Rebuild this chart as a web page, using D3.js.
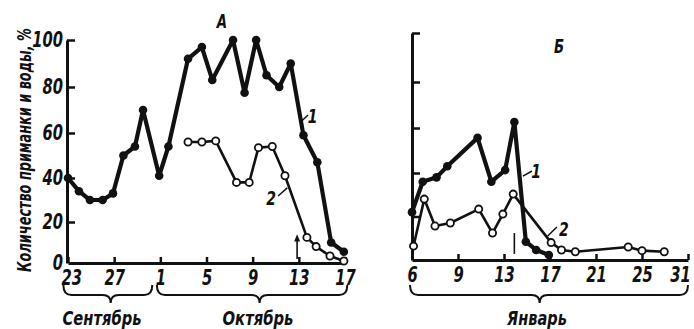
<!DOCTYPE html>
<html><head><meta charset="utf-8">
<script src="https://cdn.jsdelivr.net/npm/d3@7"></script>
<style>
body{margin:0;background:#fff;}
svg text{font-family:"Liberation Sans Narrow","DejaVu Sans Condensed","Arial Narrow","Liberation Sans",sans-serif;font-style:italic;font-weight:bold;fill:#111;}
</style></head><body><svg id="c" width="694" height="329"></svg>
<script>
// ---- data (left panel x = days since 23 Sept) ----
const leftTickDays = [0,4,8,12,16,20,24];
const leftTickLabels = ["23","27","1","5","9","13","17"];
const yTickValues = [0,20,40,60,80,100];
const leftDays1 = [0,0.95,1.9,3.0,3.9,4.8,5.8,6.5,7.9,8.7,10.4,11.6,12.5,14.3,15.3,16.3,17.2,18.3,19.3,20.4,21.6,22.8,23.9];
const leftVals1 = [40,34,30,30,33,50,54,70,41,54,92,97,83,100,77.5,100,85,80,90,59,47,10,5.5];
const leftDays2 = [10.4,11.6,12.8,14.6,15.7,16.5,17.7,18.8,20.7,21.5,22.7,23.9];
const leftVals2 = [56,56,56.5,38,38,53.5,54,41,12.5,8,3.4,1];
// ---- right panel (January days) ----
const rightTickDays = [6,9,13,17,21,25,31];
const rightTickLabels = ["6","9","13","17","21","25","31"];
const rightDays1 = [6.0,6.7,7.6,8.3,10.7,11.9,13.1,13.9,14.9,15.8,16.9];
const rightVals1 = [22,36,38,43,55.6,36,41.3,62.6,8.4,4.6,2.3];
const rightDays2 = [6.1,6.8,7.5,8.5,10.8,12.0,12.9,13.8,17.1,18.0,19.2,23.8,25.0,27.9];
const rightVals2 = [6.4,28,15.6,17,23.4,12.4,21.1,30.3,8,4.6,3.8,6,4.3,3.8];
const monthLabels = ["Сентябрь","Октябрь","Январь"];
const panelLabels = ["А","Б"];
const yTitle = "Количество приманки и воды, %";

const svg = d3.select("#c");
const ink = "#111";
const narrow = "scale(0.78,1)";

// scales
const xL = d3.scaleLinear().domain([0,24]).range([68,345]);
const yL = d3.scaleLinear().domain([0,20,40,60,80,100]).range([263,222,178,133,87,40]);
const xR = d3.scaleLinear().domain(rightTickDays).range(rightTickDays.map((d,i)=>412+i*46));
const yR = d3.scaleLinear().domain([0,40,60,80,100]).range([260,173,128,82,33]);

function styleAxis(g){
  g.select(".domain").attr("stroke",ink).attr("stroke-width",3);
  g.selectAll(".tick line").attr("stroke",ink).attr("stroke-width",2.5);
  g.selectAll(".tick text").attr("fill",ink).attr("transform",narrow).style("font-size","21px");
}

// left axes
svg.append("g").attr("transform",`translate(0,${yL(0)})`)
  .call(d3.axisBottom(xL).tickValues(leftTickDays).tickFormat((d,i)=>leftTickLabels[i]).tickSizeInner(-6).tickSizeOuter(0).tickPadding(7))
  .call(styleAxis)
  .call(g=>g.selectAll(".tick").filter(d=>d===0).select("text").attr("x",4));
svg.append("g").attr("transform",`translate(${xL(0)-1},0)`)
  .call(d3.axisLeft(yL).tickValues(yTickValues).tickSizeInner(-8).tickSizeOuter(0).tickPadding(5))
  .call(styleAxis)
  .call(g=>g.selectAll(".tick").filter(d=>d===0).select("line").remove());

// right axes
svg.append("g").attr("transform",`translate(0,${yR(0)})`)
  .call(d3.axisBottom(xR).tickValues(rightTickDays).tickFormat((d,i)=>rightTickLabels[i]).tickSizeInner(-6).tickSizeOuter(0).tickPadding(7))
  .call(styleAxis)
  .call(g=>g.selectAll(".tick").filter(d=>d===6).select("line").remove())
  .call(g=>g.selectAll(".tick").filter(d=>d===31).select("text").attr("text-anchor","end").attr("x",3));
svg.append("g").attr("transform",`translate(${xR(6)},0)`)
  .call(d3.axisLeft(yR).tickValues(yTickValues).tickFormat("").tickSizeInner(-8).tickSizeOuter(0))
  .call(styleAxis)
  .call(g=>g.selectAll(".tick").filter(d=>d===0).select("line").remove());

// series
function drawSeries(days, vals, xs, ys, filled){
  const pts = days.map((d,i)=>[xs(d), ys(vals[i])]);
  svg.append("path").attr("d", d3.line()(pts)).attr("fill","none")
    .attr("stroke",ink).attr("stroke-width", filled?4.2:2.6).attr("stroke-linejoin","round");
  svg.append("g").selectAll("circle").data(pts).join("circle")
    .attr("cx",d=>d[0]).attr("cy",d=>d[1])
    .attr("r", filled?4.3:3.6)
    .attr("fill", filled?ink:"#fff")
    .attr("stroke",ink).attr("stroke-width", filled?0:1.8);
}
drawSeries(leftDays1,leftVals1,xL,yL,true);
drawSeries(leftDays2,leftVals2,xL,yL,false);
drawSeries(rightDays1,rightVals1,xR,yR,true);
drawSeries(rightDays2,rightVals2,xR,yR,false);

// series labels with leader lines
const notes = [
  {xs:xL, ys:yL, tx:21.2, ty:64.3, l:[20.2,65,20.8,67.8], t:"1"},
  {xs:xL, ys:yL, tx:17.6, ty:27.7, l:[18.2,31.8,19.0,35.5], t:"2"},
  {xs:xR, ys:yR, tx:15.8, ty:37.7, l:[14.65,38.6,15.43,40.9], t:"1"},
  {xs:xR, ys:yR, tx:18.2, ty:11, l:[16.8,11,17.6,15.2], t:"2"}
];
notes.forEach(n=>{
  svg.append("line").attr("x1",n.xs(n.l[0])).attr("y1",n.ys(n.l[1]))
    .attr("x2",n.xs(n.l[2])).attr("y2",n.ys(n.l[3])).attr("stroke",ink).attr("stroke-width",1.5);
  svg.append("text").attr("transform",`translate(${n.xs(n.tx)},${n.ys(n.ty)}) ${narrow}`).attr("text-anchor","middle")
    .style("font-size","20px").text(n.t);
});

// arrow (left) and mark (right)
const ax = xL(19.85);
svg.append("line").attr("x1",ax).attr("x2",ax).attr("y1",yL(2)).attr("y2",yL(12)).attr("stroke",ink).attr("stroke-width",1.6);
svg.append("path").attr("d",`M${ax},${yL(14)} L${ax-3},${yL(10.5)} L${ax+3},${yL(10.5)} Z`).attr("fill",ink);
const mx = xR(13.9);
svg.append("line").attr("x1",mx).attr("x2",mx).attr("y1",yR(2.8)).attr("y2",yR(12.4)).attr("stroke",ink).attr("stroke-width",1.6);

// helper: squeeze a text horizontally (in its own direction) to a target length
function fitText(sel, target){
  const len = sel.node().getComputedTextLength();
  return len > 0 ? target/len : 1;
}

// braces
function brace(x1,x2,xt){
  const y0=285,y1=295,y2=303,r=8;
  return `M${x1},${y0} Q${x1},${y1} ${x1+r},${y1} L${xt-r},${y1} Q${xt},${y1} ${xt},${y2} Q${xt},${y1} ${xt+r},${y1} L${x2-r},${y1} Q${x2},${y1} ${x2},${y0}`;
}
const braces = [
  [xL(-0.4), xL(7.3), xL(3.7), monthLabels[0], 102, 79],
  [xL(7.7), xL(24.2), xL(16.6), monthLabels[1], 258, 71],
  [xR(6)-2, xR(31), xR(16.1), monthLabels[2], 537, 60]
];
braces.forEach(b=>{
  svg.append("path").attr("d",brace(b[0],b[1],b[2])).attr("fill","none").attr("stroke",ink).attr("stroke-width",2);
  const t = svg.append("text").attr("text-anchor","middle").style("font-size","20px").text(b[3]);
  const s = fitText(t, b[5]);
  t.attr("transform",`translate(${b[4]},325) scale(${s},1)`);
});

// panel letters
svg.append("text").attr("transform",`translate(222,28) ${narrow}`).attr("text-anchor","middle").style("font-size","19px").text(panelLabels[0]);
svg.append("text").attr("transform",`translate(559,53) ${narrow}`).attr("text-anchor","middle").style("font-size","19px").text(panelLabels[1]);

// y title
const yt = svg.append("text").attr("text-anchor","middle").style("font-size","19px").text(yTitle);
const ys = fitText(yt, 244);
yt.attr("transform",`translate(31,150) rotate(-90) scale(${ys},1)`);
</script></body></html>
